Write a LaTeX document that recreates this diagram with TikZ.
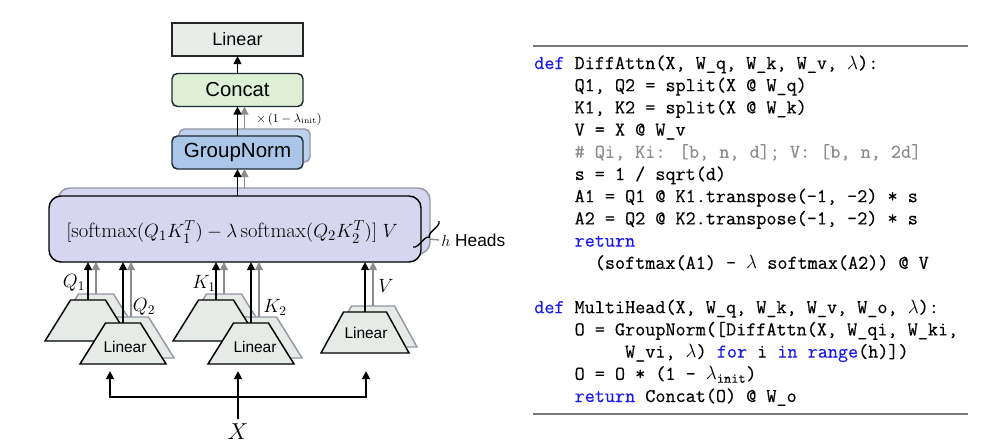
\documentclass[tikz,border=0pt]{standalone}
\usepackage{amsmath}
\usepackage{fontspec}
\setsansfont{Liberation Sans}
\newfontfamily\codefam{Latin Modern Mono}[FakeBold=0.35]
\usetikzlibrary{arrows.meta,shapes.geometric,decorations.pathreplacing}

\definecolor{linfill}{RGB}{232,237,233}
\definecolor{catfill}{RGB}{221,240,213}
\definecolor{gnfill}{RGB}{170,199,234}
\definecolor{gnshade}{RGB}{188,209,238}
\definecolor{attfill}{RGB}{214,214,240}
\definecolor{trapfill}{RGB}{230,235,231}
\definecolor{edgedark}{RGB}{30,42,52}
\definecolor{shadeedge}{RGB}{150,150,165}
\definecolor{arrgray}{RGB}{140,140,140}
\definecolor{kwblue}{RGB}{25,25,235}
\definecolor{cmtgray}{RGB}{140,140,140}
\definecolor{rulegray}{RGB}{120,120,120}

\newcommand\codefont{\fontsize{14.7pt}{16.65pt}\selectfont\codefam}
\newcommand\kw[1]{\textcolor{kwblue}{#1}}

\begin{document}
\begin{tikzpicture}[x=0.75pt,y=-0.75pt,
  blk/.style={draw=edgedark,line width=1.1pt,minimum width=98.25pt,
    minimum height=24.75pt,inner sep=0pt,outer sep=0pt},
  arr/.style={-{Triangle[length=6pt,width=5.8pt]},line width=1.1pt},
  garr/.style={arr,arrgray},
  trapq/.style={trapezium,trapezium stretches=true,minimum width=64.5pt,
    minimum height=30.75pt,trapezium left angle=53.8,trapezium right angle=53.8,
    inner sep=1pt,outer sep=0pt,draw=black,fill=trapfill,line width=1.1pt},
  trapv/.style={trapq,minimum width=66pt,trapezium left angle=62.3,
    trapezium right angle=62.3},
  shade/.style={draw=shadeedge},
  lintxt/.style={font=\sffamily\fontsize{11.6pt}{13pt}\selectfont,inner sep=0pt},
  lbl/.style={font=\fontsize{14pt}{16pt}\selectfont,inner sep=0pt},
  code/.style={anchor=base west,inner sep=0pt,font=\codefont}
]
\useasboundingbox[fill=white] (0,0) rectangle (981,444);

% output stack: GroupNorm -> Concat -> Linear
\node[blk,fill=gnshade,draw=shadeedge,rounded corners=4pt] (gns) at (244.5,145.5) {};
\node[blk,fill=gnfill,rounded corners=4pt,font=\sffamily\fontsize{15.4pt}{17pt}\selectfont] (gn) at (237.5,152.5) {GroupNorm};
\node[blk,fill=catfill,rounded corners=4pt,font=\sffamily\fontsize{15.2pt}{17pt}\selectfont] (cat) at (237.5,90) {Concat};
\node[blk,fill=linfill,draw=black!85,font=\sffamily\fontsize{13.5pt}{15pt}\selectfont] (lin) at (237.5,39.5) {Linear};

% differential attention block, one per head
\node[draw=shadeedge,line width=1.1pt,fill=attfill,rounded corners=9pt,
  minimum width=279pt,minimum height=49.5pt,outer sep=0pt] (atts) at (244,221) {};
\node[draw=black,line width=1.1pt,fill=attfill,rounded corners=9pt,
  minimum width=279pt,minimum height=49.5pt,outer sep=0pt] (att) at (235,229) {};
\node[font=\fontsize{15.5pt}{18pt}\selectfont,inner sep=0pt] (formula) at (232,232)
  {$[\mathrm{softmax}(Q_1K_1^T)-\lambda\,\mathrm{softmax}(Q_2K_2^T)]\;V$};

% heads brace
\draw[decorate,decoration={brace,amplitude=3.5pt},line width=1pt] (439,221) -- (413,247);
\coordinate (btip) at (429,239);
\node[anchor=west,inner sep=0pt,font=\sffamily\fontsize{13pt}{15pt}\selectfont] (heads) at (441,240) {$h$ Heads};
\draw[arrgray,line width=1pt] (btip) -- ([xshift=-1.5pt]heads.west);

% arrows between the upper blocks
\draw[garr] (gns.south |- atts.north) -- (gns.south |- gn.south);
\draw[arr] (gn.south |- att.north) -- (gn.south);
\draw[garr] (gns.north) -- (gns.north |- cat.south);
\draw[arr] (gn.north) -- (cat.south);
\node[anchor=west,inner sep=0pt,font=\fontsize{8.7pt}{10pt}\selectfont] (scale) at (256,119)
  {$\times\,(1-\lambda_{\mathrm{init}})$};
\draw[arr] (cat.north) -- (lin.south);

% input projections
\node[trapq,shade] (Qbs) at (96,314.5) {};
\node[trapq,shade] (Qfs) at (131,337.5) {};
\node[trapq] (Qb) at (88,320.5) {};
\node[trapq] (Qf) at (123,343.5) {};
\node[lintxt] (QfL) at (125,347) {Linear};

\node[trapq,shade] (Kbs) at (224,314.5) {};
\node[trapq,shade] (Kfs) at (259,337.5) {};
\node[trapq] (Kb) at (216,320.5) {};
\node[trapq] (Kf) at (251,343.5) {};
\node[lintxt] (KfL) at (255,347) {Linear};

\node[trapv,shade] (Vts) at (373,326.5) {};
\node[trapv] (Vt) at (365,332.5) {};
\node[lintxt] (VtL) at (366,333) {Linear};

% projection outputs into the attention block
\foreach \t in {Qb,Qf,Kb,Kf,Vt} {
  \draw[garr] (\t s.north) -- (\t s.north |- att.south);
  \draw[arr] (\t.north) -- (\t.north |- att.south);
}

\node[lbl] (q1) at (74,283) {$Q_1$};
\node[lbl] (q2) at (144,307) {$Q_2$};
\node[lbl] (k1) at (204,283) {$K_1$};
\node[lbl] (k2) at (275,307) {$K_2$};
\node[lbl] (vl) at (386,286) {$V$};

% input X fanned out to the projections
\node[font=\fontsize{17pt}{19pt}\selectfont,inner sep=0pt] (X) at (238,432) {$X$};
\coordinate (split) at (238,397);
\coordinate (inL) at (110,371);
\coordinate (inM) at (238,371);
\coordinate (inR) at (366,371);
\draw[arr] ([yshift=4pt]X.north) -- (inM);
\draw[arr] (split) -| (inL);
\draw[arr] (split) -| (inR);

% pseudocode
\draw[rulegray,line width=1.1pt] (533,46) -- (968,46);
\draw[rulegray,line width=1.1pt] (533,414) -- (968,414);
\node[code] (c1) at (534,69) {\kw{def} DiffAttn(X, W\_q, W\_k, W\_v, $\lambda$):};
\node[code] (c2) at (534,91.2) {~~~~Q1, Q2 = split(X @ W\_q)};
\node[code] (c3) at (534,113.4) {~~~~K1, K2 = split(X @ W\_k)};
\node[code] (c4) at (534,135.6) {~~~~V = X @ W\_v};
\node[code] (c5) at (534,157.8) {~~~~\textcolor{cmtgray}{\# Qi, Ki: [b, n, d]; V: [b, n, 2d]}};
\node[code] (c6) at (534,180) {~~~~s = 1 / sqrt(d)};
\node[code] (c7) at (534,202.2) {~~~~A1 = Q1 @ K1.transpose(-1, -2) * s};
\node[code] (c8) at (534,224.4) {~~~~A2 = Q2 @ K2.transpose(-1, -2) * s};
\node[code] (c9) at (534,246.6) {~~~~\kw{return}};
\node[code] (c10) at (534,268.8) {~~~~~~(softmax(A1) - $\lambda$ softmax(A2)) @ V};
\node[code] (c11) at (534,313.2) {\kw{def} MultiHead(X, W\_q, W\_k, W\_v, W\_o, $\lambda$):};
\node[code] (c12) at (534,335.4) {~~~~O = GroupNorm([DiffAttn(X, W\_qi, W\_ki,};
\node[code] (c13) at (534,357.6) {~~~~~~~~~W\_vi, $\lambda$) \kw{for} i \kw{in} \kw{range}(h)])};
\node[code] (c14) at (534,379.8) {~~~~O = O * (1 - $\lambda_{\text{init}}$)};
\node[code] (c15) at (534,402) {~~~~\kw{return} Concat(O) @ W\_o};
\end{tikzpicture}
\end{document}
